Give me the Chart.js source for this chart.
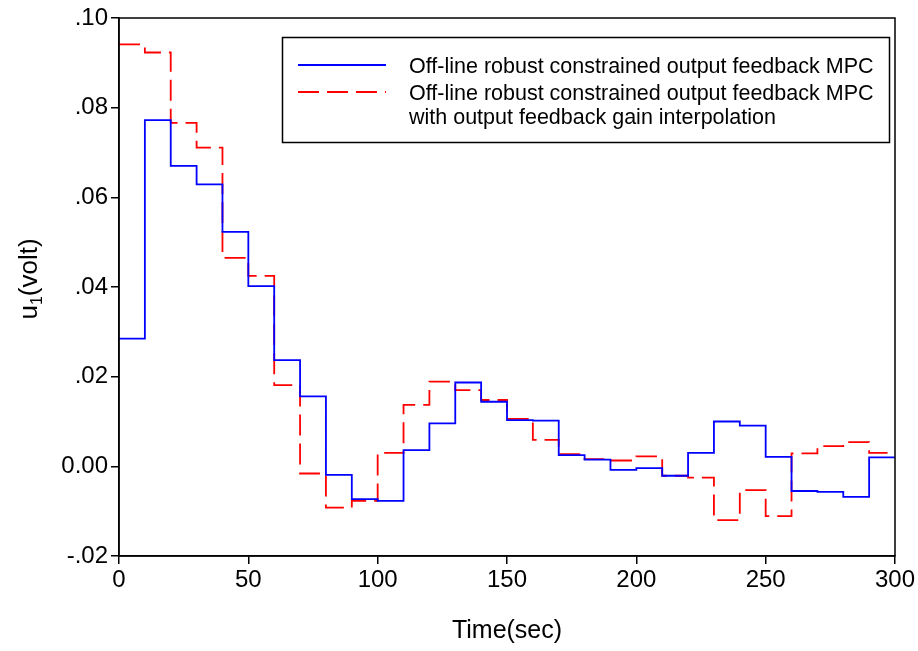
<!DOCTYPE html>
<html>
<head>
<meta charset="utf-8">
<script src="https://cdn.jsdelivr.net/npm/chart.js@4"></script>
<style>
  html, body { margin: 0; padding: 0; background: #fff; }
  #wrap { width: 918px; height: 651px; }
</style>
</head>
<body>
<div id="wrap"><canvas id="myChart" width="918" height="651"></canvas></div>
<script>
// sample instants (sec); each control move is held for 10 s
const times = [0, 10, 20, 30, 40, 50, 60, 70, 80, 90, 100, 110, 120, 130, 140, 150,
               160, 170, 180, 190, 200, 210, 220, 230, 240, 250, 260, 270, 280, 290, 300];

// u1 (volt) over each 10 s interval
const offlineMpc = [0.0285, 0.0772, 0.0670, 0.0629, 0.0523, 0.0402, 0.0237, 0.0156, -0.0019, -0.0073,
                    -0.0077, 0.0036, 0.0096, 0.0187, 0.0144, 0.0103, 0.0102, 0.0025, 0.0015, -0.0008,
                    -0.0004, -0.0021, 0.0030, 0.0100, 0.0091, 0.0021, -0.0055, -0.0057, -0.0068, 0.0020];
const gainInterp = [0.0941, 0.0923, 0.0766, 0.0711, 0.0465, 0.0425, 0.0181, -0.0016, -0.0092, -0.0077,
                    0.0030, 0.0137, 0.0189, 0.0170, 0.0148, 0.0106, 0.0059, 0.0027, 0.0016, 0.0013,
                    0.0022, -0.0021, -0.0025, -0.0120, -0.0053, -0.0111, 0.0029, 0.0045, 0.0054, 0.0030];

const seriesNames = [
    ['Off-line robust constrained output feedback MPC'],
    ['Off-line robust constrained output feedback MPC', 'with output feedback gain interpolation']
];
const yTickLabels = ['-.02', '0.00', '.02', '.04', '.06', '.08', '.10'];

const FONT = "'Liberation Sans', Arial, sans-serif";

// hold last value to the end of the run
const toSteps = (vals) => times.map((t, i) => ({ x: t, y: vals[Math.min(i, vals.length - 1)] }));

// closes the box on top and right
const framePlugin = {
    id: 'frame',
    afterDraw(chart) {
        const { ctx, chartArea: a } = chart;
        ctx.save();
        ctx.strokeStyle = '#000';
        ctx.lineWidth = 1.5;
        ctx.strokeRect(a.left, a.top, a.right - a.left, a.bottom - a.top);
        ctx.restore();
    }
};

// y title with the subscript on u
const yTitlePlugin = {
    id: 'yTitle',
    afterDraw(chart) {
        const { ctx, chartArea: a } = chart;
        const big = '26px ' + FONT, small = '16px ' + FONT;
        ctx.save();
        ctx.translate(37, (a.top + a.bottom) / 2 - 8);
        ctx.rotate(-Math.PI / 2);
        ctx.fillStyle = '#000';
        ctx.textBaseline = 'alphabetic';
        ctx.font = big;
        const wu = ctx.measureText('u').width;
        const wr = ctx.measureText('(volt)').width;
        ctx.font = small;
        const ws = ctx.measureText('1').width;
        let x = -(wu + ws + wr) / 2;
        ctx.font = big;
        ctx.fillText('u', x, 0);
        x += wu;
        ctx.font = small;
        ctx.fillText('1', x, 5);
        x += ws;
        ctx.font = big;
        ctx.fillText('(volt)', x, 0);
        ctx.restore();
    }
};

// boxed legend in the upper right
const boxLegendPlugin = {
    id: 'boxLegend',
    afterDraw(chart) {
        const ctx = chart.ctx;
        ctx.save();
        ctx.strokeStyle = '#000';
        ctx.lineWidth = 1.5;
        ctx.strokeRect(282.5, 37.5, 607, 105);
        ctx.font = '21.5px ' + FONT;
        ctx.fillStyle = '#000';
        ctx.textBaseline = 'alphabetic';
        const rows = [65, 92];
        chart.data.datasets.forEach((ds, i) => {
            const y = rows[i];
            ctx.strokeStyle = ds.borderColor;
            ctx.lineWidth = ds.borderWidth;
            ctx.setLineDash(ds.borderDash || []);
            ctx.beginPath();
            ctx.moveTo(298, y);
            ctx.lineTo(386, y);
            ctx.stroke();
            ctx.setLineDash([]);
            seriesNames[i].forEach((line, j) => {
                ctx.fillText(line, 409, y + 7.5 + j * 24);
            });
        });
        ctx.restore();
    }
};

new Chart(document.getElementById('myChart'), {
    type: 'line',
    data: {
        datasets: [
            {
                label: seriesNames[0].join(' '),
                data: toSteps(offlineMpc),
                stepped: true,
                borderColor: '#0000ff',
                borderWidth: 1.8,
                pointRadius: 0,
                fill: false
            },
            {
                label: seriesNames[1].join(' '),
                data: toSteps(gainInterp),
                stepped: true,
                borderColor: '#ff0000',
                borderWidth: 1.8,
                borderDash: [21, 8],
                pointRadius: 0,
                fill: false
            }
        ]
    },
    options: {
        responsive: false,
        animation: false,
        layout: { padding: { top: 18, right: 23, left: 0, bottom: 0 } },
        plugins: {
            legend: { display: false },
            tooltip: { enabled: false }
        },
        scales: {
            x: {
                type: 'linear',
                min: 0,
                max: 300,
                afterFit: (s) => { s.height = 95; },
                ticks: {
                    stepSize: 50,
                    color: '#000',
                    font: { family: FONT, size: 24 },
                    padding: 2,
                    maxRotation: 0
                },
                grid: {
                    display: true,
                    drawOnChartArea: false,
                    drawTicks: true,
                    tickLength: 8,
                    color: '#000',
                    lineWidth: 1.5
                },
                border: { display: true, color: '#000', width: 1.5 },
                title: {
                    display: true,
                    text: 'Time(sec)',
                    color: '#000',
                    font: { family: FONT, size: 25 },
                    padding: { top: 0, bottom: 5 }
                }
            },
            y: {
                min: -0.02,
                max: 0.10,
                afterFit: (s) => { s.width = 119; },
                ticks: {
                    stepSize: 0.02,
                    color: '#000',
                    font: { family: FONT, size: 24 },
                    padding: 3,
                    callback: (v, i) => yTickLabels[i]
                },
                grid: {
                    display: true,
                    drawOnChartArea: false,
                    drawTicks: true,
                    tickLength: 8,
                    color: '#000',
                    lineWidth: 1.5
                },
                border: { display: true, color: '#000', width: 1.5 }
            }
        }
    },
    plugins: [framePlugin, yTitlePlugin, boxLegendPlugin]
});
</script>
</body>
</html>
